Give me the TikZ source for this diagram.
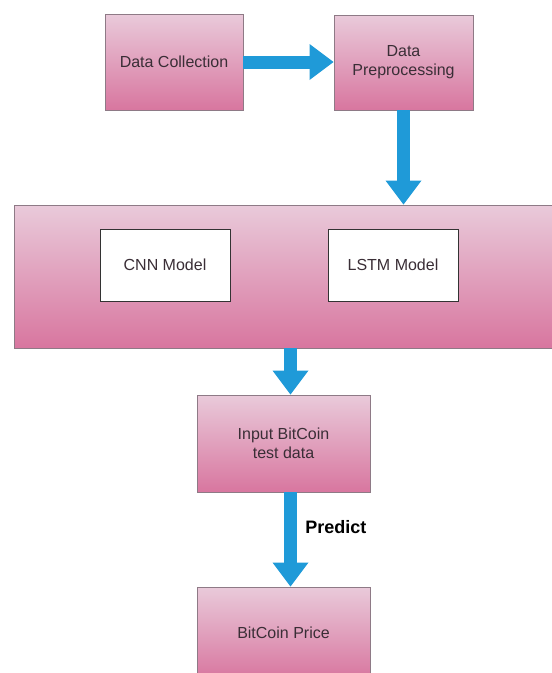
\documentclass[tikz,border=0pt]{standalone}
\usepackage{fontspec}
\setmainfont{Liberation Sans}
\usetikzlibrary{arrows.meta}
\definecolor{pinktop}{HTML}{E9CADA}
\definecolor{pinkbot}{HTML}{D8769F}
\definecolor{boxedge}{HTML}{8E7A86}
\definecolor{flowblue}{HTML}{1F9AD8}
\definecolor{labeltext}{HTML}{3A2E36}
\tikzset{
  pinkbox/.style={draw=boxedge, line width=0.9pt, top color=pinktop, bottom color=pinkbot,
    text=labeltext, align=center, inner sep=0pt,
    font=\fontsize{16}{19}\selectfont},
  whitebox/.style={draw=black!80, line width=1pt, fill=white, text=labeltext,
    align=center, inner sep=0pt, font=\fontsize{16}{19}\selectfont},
  fatarrow/.style={draw=flowblue, line width=13pt,
    -{Triangle[width=36pt 0, length=24pt 0, line width=0pt, fill=flowblue]}},
}
\begin{document}
\begin{tikzpicture}[x=1pt,y=-1pt]
\useasboundingbox (0,0) rectangle (552,673);
\begin{scope}
\clip (0,0) rectangle (552,673);
% top row
\node[pinkbox, minimum width=138pt, minimum height=96pt] (collect) at (174,62) {Data Collection};
\node[pinkbox, minimum width=139pt, minimum height=95pt] (prep) at (403.5,62.5) {Data\\Preprocessing};
% model block
\node[pinkbox, minimum width=542pt, minimum height=143pt] (models) at (285,276.5) {};
\node[whitebox, minimum width=130pt, minimum height=72pt] (cnn) at (165,265) {CNN Model};
\node[whitebox, minimum width=130pt, minimum height=72pt] (lstm) at (393,265) {LSTM Model};
% evaluation
\node[pinkbox, minimum width=173pt, minimum height=97pt] (input) at (283.5,443.5) {Input BitCoin\\test data};
\node[pinkbox, minimum width=173pt, minimum height=92pt] (price) at (283.5,633) {BitCoin Price};
% flow arrows
\draw[fatarrow] (collect.east) -- (collect.east -| prep.west);
\draw[fatarrow] (prep.south) -- (prep.south |- models.north);
\coordinate (col) at (290.5,0);
\draw[fatarrow] (models.south -| col) -- (input.north -| col);
\draw[fatarrow] (input.south -| col) -- node[pos=0.37, right=5pt, font=\bfseries\fontsize{18}{20}\selectfont, text=black] (pred) {Predict} (price.north -| col);
\end{scope}
\end{tikzpicture}
\end{document}
